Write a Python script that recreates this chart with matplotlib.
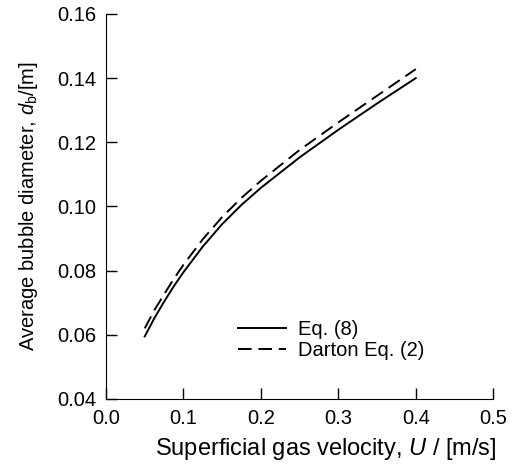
import matplotlib
matplotlib.use("Agg")
from matplotlib import pyplot as plt

# values
u = [0.05, 0.0625, 0.075, 0.0875, 0.1, 0.125, 0.15, 0.175, 0.2, 0.25, 0.3, 0.35, 0.4]
db_eq8 = [0.0595, 0.0652, 0.0703, 0.0751, 0.0795, 0.0875, 0.0945, 0.1005, 0.1058,
          0.1153, 0.1239, 0.1321, 0.1400]
db_darton = [0.0620, 0.0677, 0.0726, 0.0774, 0.0818, 0.0898, 0.0967, 0.1027, 0.1080,
             0.1176, 0.1262, 0.1345, 0.1428]

xticks = [0.0, 0.1, 0.2, 0.3, 0.4, 0.5]
yticks = [0.04, 0.06, 0.08, 0.10, 0.12, 0.14, 0.16]

plt.rcParams["font.family"] = ["Liberation Sans", "DejaVu Sans"]
plt.rcParams["mathtext.fontset"] = "custom"
plt.rcParams["mathtext.it"] = "Liberation Sans:italic"
plt.rcParams["mathtext.rm"] = "Liberation Sans"

fig = plt.figure(figsize=(5.17, 4.65), dpi=100)
ax = fig.add_axes([0.205, 0.142, 0.749, 0.828])

ax.plot(u, db_eq8, color="black", linewidth=1.4, label="Eq. (8)")
ax.plot(u, db_darton, color="black", linewidth=1.4, linestyle=(0, (7, 3.5)), label="Darton Eq. (2)")

ax.set_xlim(0, 0.5)
ax.set_ylim(0.04, 0.16)
ax.set_xticks(xticks)
ax.set_xticklabels(["{:.1f}".format(v) for v in xticks])
ax.set_yticks(yticks)
ax.set_yticklabels(["{:.2f}".format(v) for v in yticks])

ax.spines["top"].set_visible(False)
ax.spines["right"].set_visible(False)
ax.tick_params(direction="in", length=8, width=1, labelsize=14.5, pad=7)

ax.set_xlabel("Superficial gas velocity, $U$ / [m/s]", fontsize=17)
ax.xaxis.set_label_coords(0.568, -0.095)
ax.set_ylabel("Average bubble diameter, $d_{\\mathrm{b}}$/[m]", fontsize=14.5, labelpad=12)

ax.legend(loc="lower right", bbox_to_anchor=(0.87, 0.055), frameon=False,
          fontsize=14.5, handlelength=2.4, handletextpad=0.6, labelspacing=0.1)

plt.savefig("out.png", dpi=100)
